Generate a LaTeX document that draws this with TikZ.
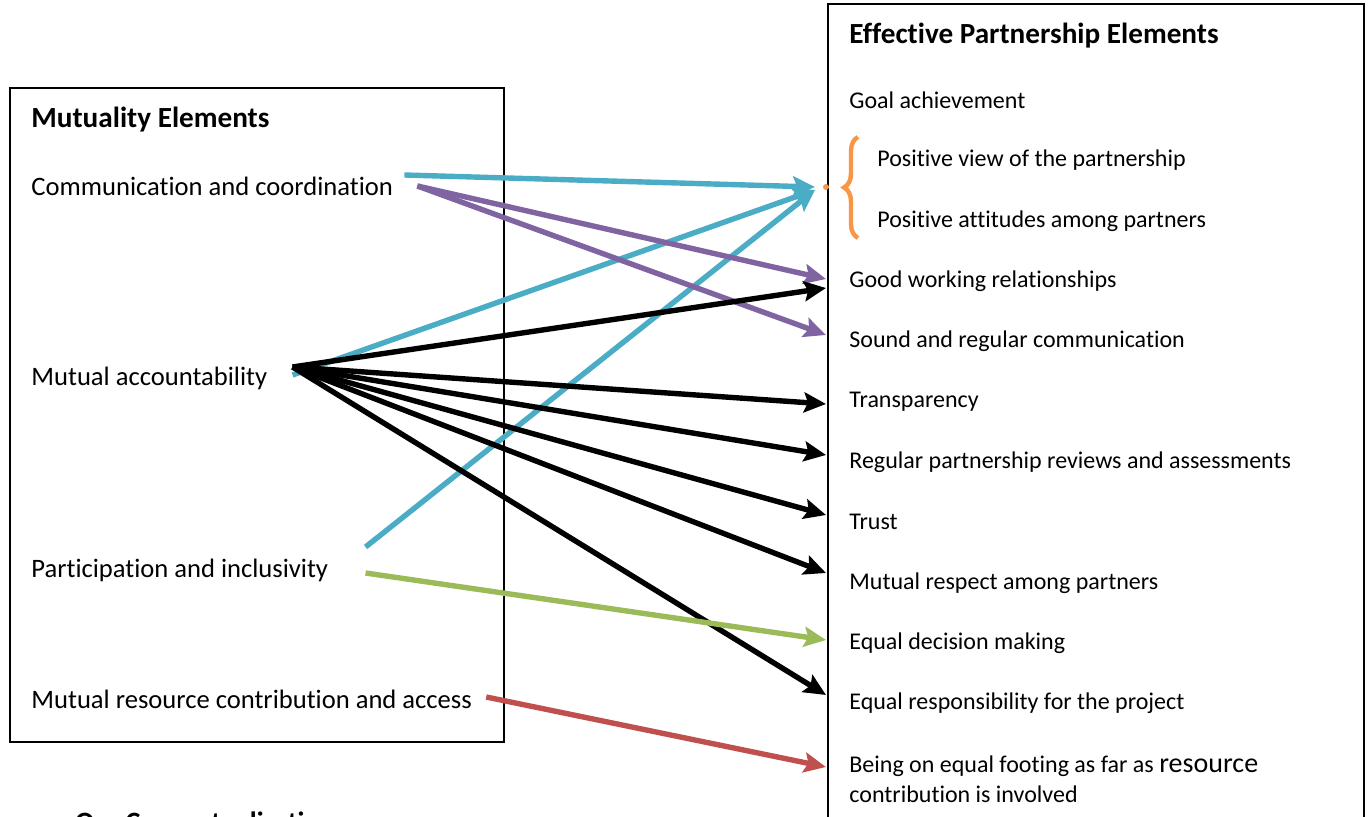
\documentclass[tikz,border=0pt]{standalone}
\usepackage{fontspec}
\setmainfont{Carlito}[Ligatures=NoCommon]
\usepackage{tikz}
\usetikzlibrary{arrows.meta,decorations.pathreplacing}
\definecolor{cyanl}{HTML}{4BACC6}
\definecolor{purpl}{HTML}{8064A2}
\definecolor{greenl}{HTML}{9BBB59}
\definecolor{redl}{HTML}{C0504D}
\definecolor{orangel}{HTML}{F79646}
\begin{document}
\begin{tikzpicture}[x=0.5pt, y=-0.5pt,
  txt/.style={anchor=west, inner sep=0pt, font=\fontsize{12}{15}\selectfont},
  ltxt/.style={txt, font=\fontsize{13.3}{16}\selectfont},
  head/.style={anchor=west, inner sep=0pt, font=\fontsize{14.6}{17}\selectfont\bfseries},
  link/.style={line width=2.7pt, -{Stealth[length=11pt,width=10pt,inset=2pt]}}]
\useasboundingbox (0,0) rectangle (1372,817);
\clip (0,0) rectangle (1372,817);
% boxes
\draw[line width=0.75pt] (10,88) rectangle (504,742);
\draw[line width=0.9pt] (828,4) rectangle (1364,840);
% left column
\node[head] (mutu) at (31,120) {Mutuality Elements};
\node[ltxt] (comm) at (31,186) {Communication and coordination};
\node[ltxt] (acc) at (31,378) {Mutual accountability};
\node[ltxt] (part) at (31,570) {Participation and inclusivity};
\node[ltxt] (res) at (31,699) {Mutual resource contribution and access};
\node[head, anchor=base west, font=\fontsize{14}{16}\selectfont\bfseries] (concept) at (75,832) {Our Conceptualization};
% right column
\node[head] (eff) at (849,36) {Effective Partnership Elements};
\node[txt] (goal) at (849,100) {Goal achievement};
\node[txt] (view) at (877,160) {Positive view of the partnership};
\node[txt] (att) at (877,221) {Positive attitudes among partners};
\node[txt] (work) at (849,281) {Good working relationships};
\node[txt] (sound) at (849,341) {Sound and regular communication};
\node[txt] (transp) at (849,402) {Transparency};
\node[txt] (review) at (849,462) {Regular partnership reviews and assessments};
\node[txt] (trust) at (849,522) {Trust};
\node[txt] (resp) at (849,583) {Mutual respect among partners};
\node[txt] (decis) at (849,643) {Equal decision making};
\node[txt] (equal) at (849,703) {Equal responsibility for the project};
\node[txt, anchor=base west, align=left, font=\fontsize{12}{15}\selectfont] (foot) at (849,803) {Being on equal footing as far as {\fontsize{14}{15}\selectfont resource}\\contribution is involved};
% brace for the two positive items
\coordinate (pos) at (826,187);
\draw[orangel, line width=2.2pt, decorate, decoration={brace, amplitude=7pt}] (858,238) -- (858,137);
\fill[orangel] (pos) circle (3);
% connectors
\coordinate (comm-a) at ([shift={(11,-11)}]comm.east);
\coordinate (comm-b) at ([shift={(24,0)}]comm.east);
\coordinate (acc-a) at ([shift={(25,-3)}]acc.east);
\coordinate (part-a) at ([shift={(37,-23)}]part.east);
\coordinate (part-b) at ([shift={(37,3)}]part.east);
\coordinate (res-a) at ([shift={(14,-2)}]res.east);
\draw[link, cyanl] (comm-a) -- ([shift={(-11,0)}]pos);
\draw[link, cyanl] (acc-a) -- ([shift={(-11,3)}]pos);
\draw[link, cyanl] (part-a) -- ([shift={(-11,3)}]pos);
\draw[link, purpl] (comm-b) -- ([shift={(-23,-2)}]work.west);
\draw[link, purpl] (comm-b) -- ([shift={(-23,-6)}]sound.west);
\draw[link, black] ([yshift=4]acc-a) -- ([shift={(-23,7)}]work.west);
\draw[link, black] ([yshift=4]acc-a) -- ([shift={(-23,2)}]transp.west);
\draw[link, black] ([yshift=4]acc-a) -- ([shift={(-23,-7)}]review.west);
\draw[link, black] ([yshift=4]acc-a) -- ([shift={(-23,-7)}]trust.west);
\draw[link, black] ([yshift=4]acc-a) -- ([shift={(-23,-10)}]resp.west);
\draw[link, black] ([yshift=4]acc-a) -- ([shift={(-23,-8)}]equal.west);
\draw[link, greenl] (part-b) -- ([shift={(-23,-3)}]decis.west);
\draw[link, redl] (res-a) -- ([shift={(-23,-36)}]foot.base west);
\end{tikzpicture}
\end{document}
